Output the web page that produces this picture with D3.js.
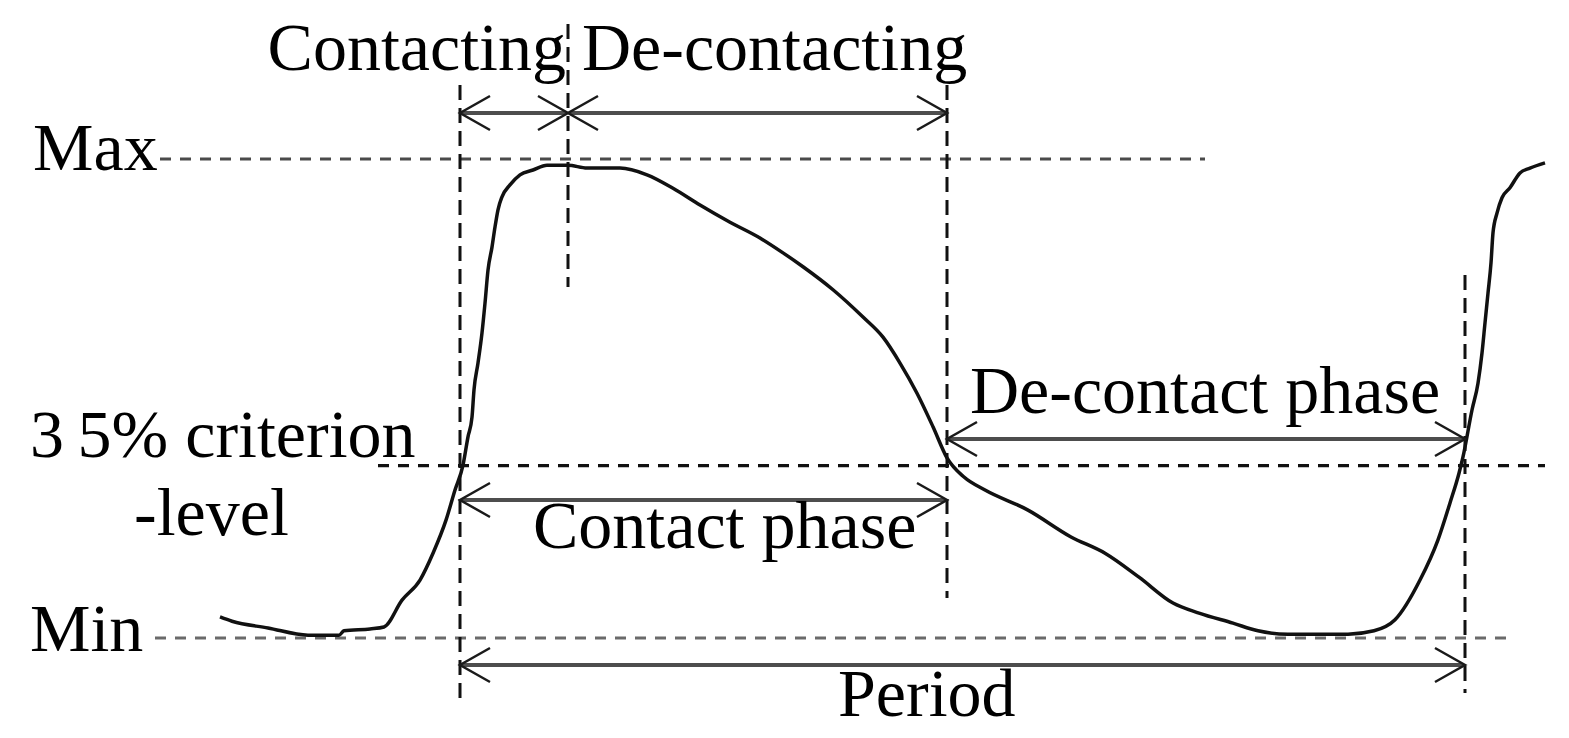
<!DOCTYPE html>
<html>
<head>
    <title>Contact phase diagram</title>
    <meta charset="utf-8">
    <style>
        body { margin: 0; background: #fff; }
        text { font-family: "Liberation Serif", "DejaVu Serif", serif; fill: #000; }
    </style>
</head>
<body>
<script src="https://cdn.jsdelivr.net/npm/d3@7"></script>
<script>
    const SIZES = {
        WIDTH: 1569,
        HEIGHT: 738,
        FONT: 68
    };
    // Signal samples (time in samples, level in % of Min..Max)
    const timeSamples = [0, 12, 48, 88, 119, 124, 150, 164, 182, 200, 213, 226, 235, 243, 248, 252, 254, 258,
        262, 265, 268, 272, 275, 278, 282, 290, 300, 313, 327, 348, 367, 400, 427, 453, 480, 510, 540, 563,
        583, 613, 643, 663, 680, 697, 713, 727, 744, 765, 808, 851, 885, 919, 953, 979, 1013, 1038, 1068,
        1128, 1154, 1175, 1200, 1218, 1230, 1239, 1243, 1252, 1258, 1262, 1265, 1268, 1271, 1273, 1277,
        1282, 1290, 1300, 1310, 1325];
    const signalLevel = [4.4, 3.5, 2.1, 0.6, 0.6, 1.5, 1.9, 2.3, 7.9, 12.1, 17.7, 24.6, 30.9, 36.1, 42.0, 46.1,
        51.8, 57.4, 63.7, 69.9, 76.8, 81.6, 85.8, 89.4, 92.1, 94.6, 96.7, 97.7, 98.7, 98.7, 98.1, 98.1, 96.7,
        93.9, 90.4, 86.8, 83.5, 80.4, 77.5, 72.7, 67.0, 62.8, 57.4, 51.1, 44.1, 37.6, 33.6, 30.9, 26.7, 21.1,
        17.7, 12.7, 7.3, 5.2, 3.1, 1.5, 0.8, 0.8, 1.5, 3.8, 12.1, 20.5, 28.2, 34.4, 37.8, 47.6, 53.2, 59.5,
        65.8, 72.0, 78.3, 84.6, 88.7, 91.9, 94.0, 97.1, 98.1, 99.2];
    // Reference levels
    const levelNames = ['Max', 'criterion', 'Min'];
    const levelValues = [100, 36, 0];
    // Event times: contact start, peak, de-contact start, next contact start
    const eventNames = ['contact', 'peak', 'decontact', 'nextContact'];
    const eventTimes = [240, 348, 727, 1245];

    const x = d3.scaleLinear().domain([0, 1325]).range([220, 1545]);
    const y = d3.scaleLinear().domain([0, 100]).range([638, 159]);
    const ev = name => x(eventTimes[eventNames.indexOf(name)]);
    const lv = name => y(levelValues[levelNames.indexOf(name)]);

    const svg = d3.select('body').append('svg')
        .attr('width', SIZES.WIDTH)
        .attr('height', SIZES.HEIGHT);

    // Horizontal guide lines
    const hGuides = [
        {level: 'Max', x1: 160, x2: 1205, color: '#4a4a4a'},
        {level: 'criterion', x1: 378, x2: 1545, color: '#111'},
        {level: 'Min', x1: 155, x2: 1512, color: '#6a6a6a'}
    ];
    svg.selectAll('.hguide').data(hGuides).enter().append('line')
        .attr('class', 'hguide')
        .attr('x1', d => d.x1).attr('x2', d => d.x2)
        .attr('y1', d => lv(d.level)).attr('y2', d => lv(d.level))
        .attr('stroke', d => d.color)
        .attr('stroke-width', 3.2)
        .attr('stroke-dasharray', '11,9');

    // Vertical guide lines
    const vGuides = [
        {event: 'contact', y1: 85, y2: 703},
        {event: 'peak', y1: 24, y2: 287},
        {event: 'decontact', y1: 85, y2: 598},
        {event: 'nextContact', y1: 275, y2: 693}
    ];
    svg.selectAll('.vguide').data(vGuides).enter().append('line')
        .attr('class', 'vguide')
        .attr('x1', d => ev(d.event)).attr('x2', d => ev(d.event))
        .attr('y1', d => d.y1).attr('y2', d => d.y2)
        .attr('stroke', '#111')
        .attr('stroke-width', 3)
        .attr('stroke-dasharray', '15,8');

    // Signal curve
    const line = d3.line()
        .x((d, i) => x(timeSamples[i]))
        .y(d => y(d))
        .curve(d3.curveMonotoneX);
    svg.append('path')
        .datum(signalLevel)
        .attr('d', line)
        .attr('fill', 'none')
        .attr('stroke', '#111')
        .attr('stroke-width', 3.5)
        .attr('stroke-linejoin', 'round');

    // Double-headed dimension arrows
    const arrows = [
        {from: 'contact', to: 'peak', y: 113},
        {from: 'peak', to: 'decontact', y: 113},
        {from: 'decontact', to: 'nextContact', y: 439},
        {from: 'contact', to: 'decontact', y: 500},
        {from: 'contact', to: 'nextContact', y: 665}
    ];
    const HEAD_L = 30, HEAD_W = 17;
    const arrowG = svg.selectAll('.arrow').data(arrows).enter().append('g').attr('class', 'arrow');
    arrowG.append('line')
        .attr('x1', d => ev(d.from) + 2).attr('x2', d => ev(d.to) - 2)
        .attr('y1', d => d.y).attr('y2', d => d.y)
        .attr('stroke', '#4d4d4d')
        .attr('stroke-width', 4);
    arrowG.append('path')
        .attr('d', d => {
            const a = ev(d.from), b = ev(d.to);
            return `M${a + HEAD_L},${d.y - HEAD_W}L${a},${d.y}L${a + HEAD_L},${d.y + HEAD_W}` +
                `M${b - HEAD_L},${d.y - HEAD_W}L${b},${d.y}L${b - HEAD_L},${d.y + HEAD_W}`;
        })
        .attr('fill', 'none')
        .attr('stroke', '#1a1a1a')
        .attr('stroke-width', 2.5);

    // Labels
    const labels = [
        {text: 'Contacting', x: 566, y: 70, anchor: 'end'},
        {text: 'De-contacting', x: 582, y: 70, anchor: 'start'},
        {text: 'Max', x: 33, y: 170, anchor: 'start'},
        {text: '3\u20095% criterion', x: 30, y: 457, anchor: 'start'},
        {text: '-level', x: 134, y: 535, anchor: 'start'},
        {text: 'Min', x: 30, y: 651, anchor: 'start'},
        {text: 'Contact phase', x: 533, y: 548, anchor: 'start'},
        {text: 'De-contact phase', x: 970, y: 413, anchor: 'start'},
        {text: 'Period', x: 838, y: 716, anchor: 'start'}
    ];
    svg.selectAll('.label').data(labels).enter().append('text')
        .attr('class', 'label')
        .attr('x', d => d.x).attr('y', d => d.y)
        .attr('text-anchor', d => d.anchor)
        .style('font-size', SIZES.FONT + 'px')
        .text(d => d.text);
</script>
</body>
</html>
